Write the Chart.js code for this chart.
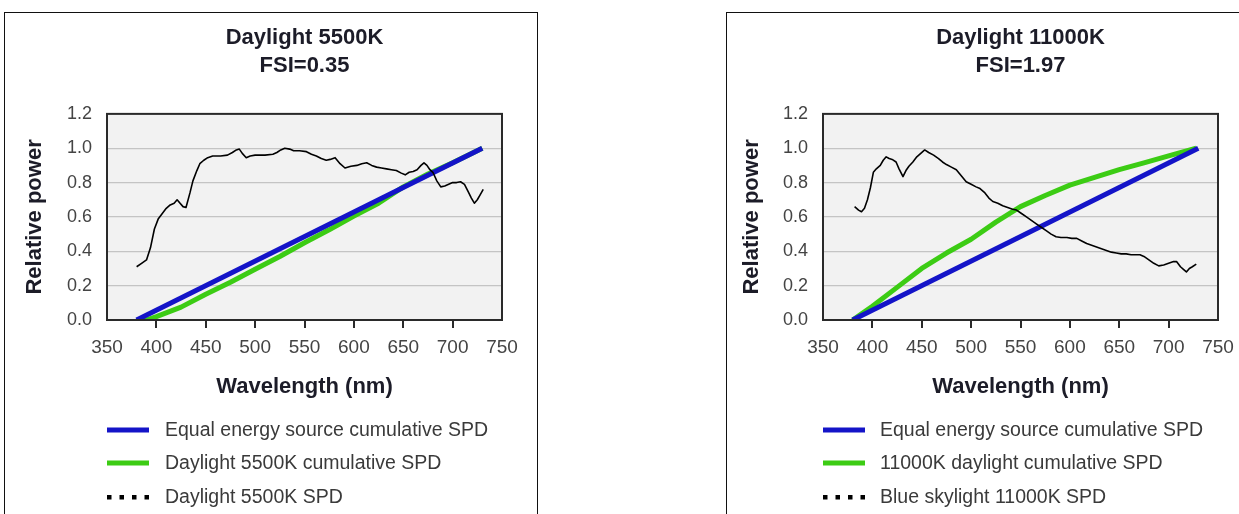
<!DOCTYPE html>
<html>
<head>
<meta charset="utf-8">
<script src="https://cdn.jsdelivr.net/npm/chart.js@4.4.0/dist/chart.umd.min.js"></script>
<style>
  body { margin: 0; background: #fff; width: 1239px; height: 514px; overflow: hidden; position: relative; }
  .panel { position: absolute; top: 12px; height: 520px; border: 1.5px solid #111; border-bottom: none; box-sizing: border-box; }
  #p1 { left: 4px; width: 534px; }
  #p2 { left: 726px; width: 560px; }
  canvas { position: absolute; }
</style>
</head>
<body>
<div class="panel" id="p1"></div>
<div class="panel" id="p2"></div>
<canvas id="c1" width="532" height="501" style="left:5px;top:13px"></canvas>
<canvas id="c2" width="533" height="501" style="left:727px;top:13px"></canvas>
<script>
// axis ticks
var xTickValues = [350, 400, 450, 500, 550, 600, 650, 700, 750];
var yTickValues = [0, 0.2, 0.4, 0.6, 0.8, 1.0, 1.2];

// equal energy source (both panels)
var equalWl = [380, 730];
var equalCum = [0, 1];

// left panel: daylight 5500K
var title55 = ['Daylight 5500K', 'FSI=0.35'];
var labels55 = ['Equal energy source cumulative SPD', 'Daylight 5500K cumulative SPD', 'Daylight 5500K SPD'];
var d55CumWl = [380, 390, 400, 425, 450, 475, 500, 525, 550, 575, 600, 625, 650, 675, 700, 730];
var d55Cum = [0, 0.0, 0.02, 0.075, 0.15, 0.22, 0.295, 0.37, 0.45, 0.525, 0.605, 0.68, 0.775, 0.85, 0.915, 1.0];
var d55SpdWl = [380, 385, 390, 394, 398, 402, 406, 410, 414, 418, 421, 424, 427, 430, 434, 437, 441, 444, 448, 452, 457, 465, 472, 477, 481, 484, 487, 491, 495, 500, 510, 518, 522, 526, 530, 535, 539, 545, 552, 557, 562, 567, 572, 576, 581, 586, 591, 597, 603, 608, 613, 618, 623, 628, 633, 638, 643, 648, 652, 656, 660, 664, 668, 671, 674, 677, 680, 684, 688, 692, 696, 700, 704, 708, 712, 716, 719, 722, 725, 728, 731];
var d55Spd = [0.31, 0.33, 0.35, 0.42, 0.53, 0.59, 0.62, 0.65, 0.67, 0.68, 0.70, 0.68, 0.66, 0.655, 0.74, 0.81, 0.87, 0.91, 0.93, 0.945, 0.955, 0.955, 0.96, 0.975, 0.99, 0.995, 0.97, 0.945, 0.955, 0.96, 0.96, 0.965, 0.975, 0.99, 1.0, 0.995, 0.985, 0.985, 0.98, 0.965, 0.955, 0.94, 0.93, 0.935, 0.945, 0.91, 0.885, 0.895, 0.9, 0.91, 0.915, 0.9, 0.89, 0.885, 0.88, 0.875, 0.87, 0.855, 0.845, 0.86, 0.865, 0.875, 0.9, 0.915, 0.9, 0.875, 0.86, 0.81, 0.775, 0.78, 0.79, 0.8, 0.8, 0.805, 0.79, 0.745, 0.71, 0.68, 0.7, 0.73, 0.76];

// right panel: daylight 11000K
var title110 = ['Daylight 11000K', 'FSI=1.97'];
var labels110 = ['Equal energy source cumulative SPD', '11000K daylight cumulative SPD', 'Blue skylight 11000K SPD'];
var d110CumWl = [380, 400, 425, 450, 475, 500, 525, 550, 575, 600, 625, 650, 675, 700, 728];
var d110Cum = [0, 0.08, 0.19, 0.30, 0.39, 0.47, 0.57, 0.66, 0.725, 0.785, 0.83, 0.875, 0.915, 0.955, 1.0];
var skySpdWl = [382, 386, 389, 392, 395, 398, 401, 404, 408, 411, 414, 417, 420, 424, 427, 431, 434, 437, 441, 445, 449, 453, 457, 462, 467, 471, 475, 480, 485, 490, 495, 500, 505, 509, 514, 518, 522, 527, 532, 537, 542, 546, 551, 556, 561, 566, 571, 576, 581, 586, 591, 597, 602, 607, 612, 617, 622, 627, 632, 637, 642, 647, 652, 657, 662, 667, 671, 675, 680, 685, 690, 695, 700, 705, 708, 712, 715, 718, 721, 724, 728];
var skySpd = [0.66, 0.64, 0.63, 0.65, 0.70, 0.77, 0.86, 0.88, 0.90, 0.93, 0.95, 0.94, 0.935, 0.92, 0.88, 0.835, 0.87, 0.895, 0.92, 0.95, 0.97, 0.99, 0.975, 0.96, 0.94, 0.92, 0.905, 0.89, 0.875, 0.84, 0.805, 0.79, 0.775, 0.765, 0.74, 0.71, 0.69, 0.68, 0.665, 0.655, 0.645, 0.64, 0.62, 0.6, 0.58, 0.56, 0.54, 0.52, 0.5, 0.485, 0.48, 0.48, 0.475, 0.475, 0.46, 0.445, 0.435, 0.425, 0.415, 0.405, 0.395, 0.39, 0.385, 0.385, 0.38, 0.38, 0.38, 0.37, 0.35, 0.33, 0.315, 0.32, 0.33, 0.34, 0.34, 0.31, 0.295, 0.28, 0.3, 0.31, 0.325];

var BLUE = '#1414c8';
var GREEN = '#3ccc14';
var FONT = "'Liberation Sans', Arial, sans-serif";

function pts(xs, ys) {
  return xs.map(function(x, i) { return {x: x, y: ys[i]}; });
}

var framePlugin = {
  id: 'frame',
  beforeDraw: function(chart) {
    var a = chart.chartArea, ctx = chart.ctx;
    ctx.save();
    ctx.fillStyle = '#f2f2f2';
    ctx.fillRect(a.left, a.top, a.right - a.left, a.bottom - a.top);
    ctx.restore();
  },
  afterDraw: function(chart) {
    var a = chart.chartArea, ctx = chart.ctx;
    ctx.save();
    ctx.strokeStyle = '#2a2a2a';
    ctx.lineWidth = 2;
    ctx.strokeRect(a.left, a.top, a.right - a.left, a.bottom - a.top);
    ctx.restore();
  }
};

// legend drawn as a plain list under the plot
function listLegend(labels, textGap) {
  return {
    id: 'listLegend',
    afterDraw: function(chart) {
      var ctx = chart.ctx, x0 = chart.chartArea.left;
      var rows = [417, 450, 484];
      ctx.save();
      ctx.font = '19.5px ' + FONT;
      ctx.textBaseline = 'middle';
      labels.forEach(function(txt, i) {
        var y = rows[i];
        if (i === 0 || i === 1) {
          ctx.fillStyle = i === 0 ? BLUE : GREEN;
          ctx.fillRect(x0, y - 2.5, 42, 5);
        } else {
          ctx.fillStyle = '#000';
          for (var k = 0; k < 4; k++) ctx.fillRect(x0 + k * 12.5, y - 2, 4.5, 4.5);
        }
        ctx.fillStyle = '#3a3a3a';
        ctx.fillText(txt, x0 + textGap, y + 1);
      });
      ctx.restore();
    }
  };
}

function makeChart(id, title, labels, cumWl, cum, spdWl, spd, opt) {
  return new Chart(document.getElementById(id), {
    type: 'line',
    data: {
      datasets: [
        { label: labels[0], data: pts(equalWl, equalCum), borderColor: BLUE, borderWidth: 5, order: 1 },
        { label: labels[1], data: pts(cumWl, cum), borderColor: GREEN, borderWidth: 5, order: 2 },
        { label: labels[2], data: pts(spdWl, spd), borderColor: '#000', borderWidth: 1.6, order: 0 }
      ]
    },
    options: {
      responsive: false,
      animation: false,
      devicePixelRatio: 1,
      elements: { point: { radius: 0 }, line: { tension: 0, borderJoinStyle: 'round' } },
      layout: { padding: { left: 0, right: opt.padRight, top: 0, bottom: 114 } },
      plugins: {
        legend: { display: false },
        tooltip: { enabled: false },
        title: {
          display: true,
          text: title,
          fullSize: false,
          color: '#1c1c28',
          font: { family: FONT, size: 22, weight: 'bold', lineHeight: 1.27 },
          padding: { top: 11, bottom: 34 }
        }
      },
      scales: {
        x: {
          type: 'linear',
          min: 350, max: 750,
          afterBuildTicks: function(s) { s.ticks = xTickValues.map(function(v) { return {value: v}; }); },
          afterFit: function(s) { s.height = 80; },
          ticks: { color: '#444', font: { family: FONT, size: 19 }, padding: 8, maxRotation: 0, autoSkip: false,
                   callback: function(v) { return String(v); } },
          grid: {
            display: true, drawOnChartArea: false, drawTicks: true, tickLength: 8, lineWidth: 2,
            color: function(c) { return (c.tick && (c.tick.value === 350 || c.tick.value === 750)) ? 'rgba(0,0,0,0)' : '#2a2a2a'; }
          },
          border: { display: false },
          title: { display: true, text: 'Wavelength (nm)', color: '#1c1c28',
                   font: { family: FONT, size: 22, weight: 'bold' }, padding: { top: 0, bottom: 0 } }
        },
        y: {
          min: 0, max: 1.2,
          afterBuildTicks: function(s) { s.ticks = yTickValues.map(function(v) { return {value: v}; }); },
          afterFit: function(s) { s.width = opt.plotLeft; },
          ticks: { color: '#444', font: { family: FONT, size: 18 }, padding: 15,
                   callback: function(v) { return v.toFixed(1); } },
          grid: { color: '#c4c4c4', lineWidth: 1.2, drawTicks: false },
          border: { display: false },
          title: { display: true, text: 'Relative power', color: '#1c1c28',
                   font: { family: FONT, size: 22, weight: 'bold' }, padding: { top: opt.titlePad, bottom: 0 } }
        }
      }
    },
    plugins: [framePlugin, listLegend(labels, opt.textGap)]
  });
}

makeChart('c1', title55, labels55, d55CumWl, d55Cum, d55SpdWl, d55Spd,
  { plotLeft: 102, padRight: 35, titlePad: 17, textGap: 58 });
makeChart('c2', title110, labels110, d110CumWl, d110Cum, skySpdWl, skySpd,
  { plotLeft: 96, padRight: 42, titlePad: 12, textGap: 57 });
</script>
</body>
</html>
